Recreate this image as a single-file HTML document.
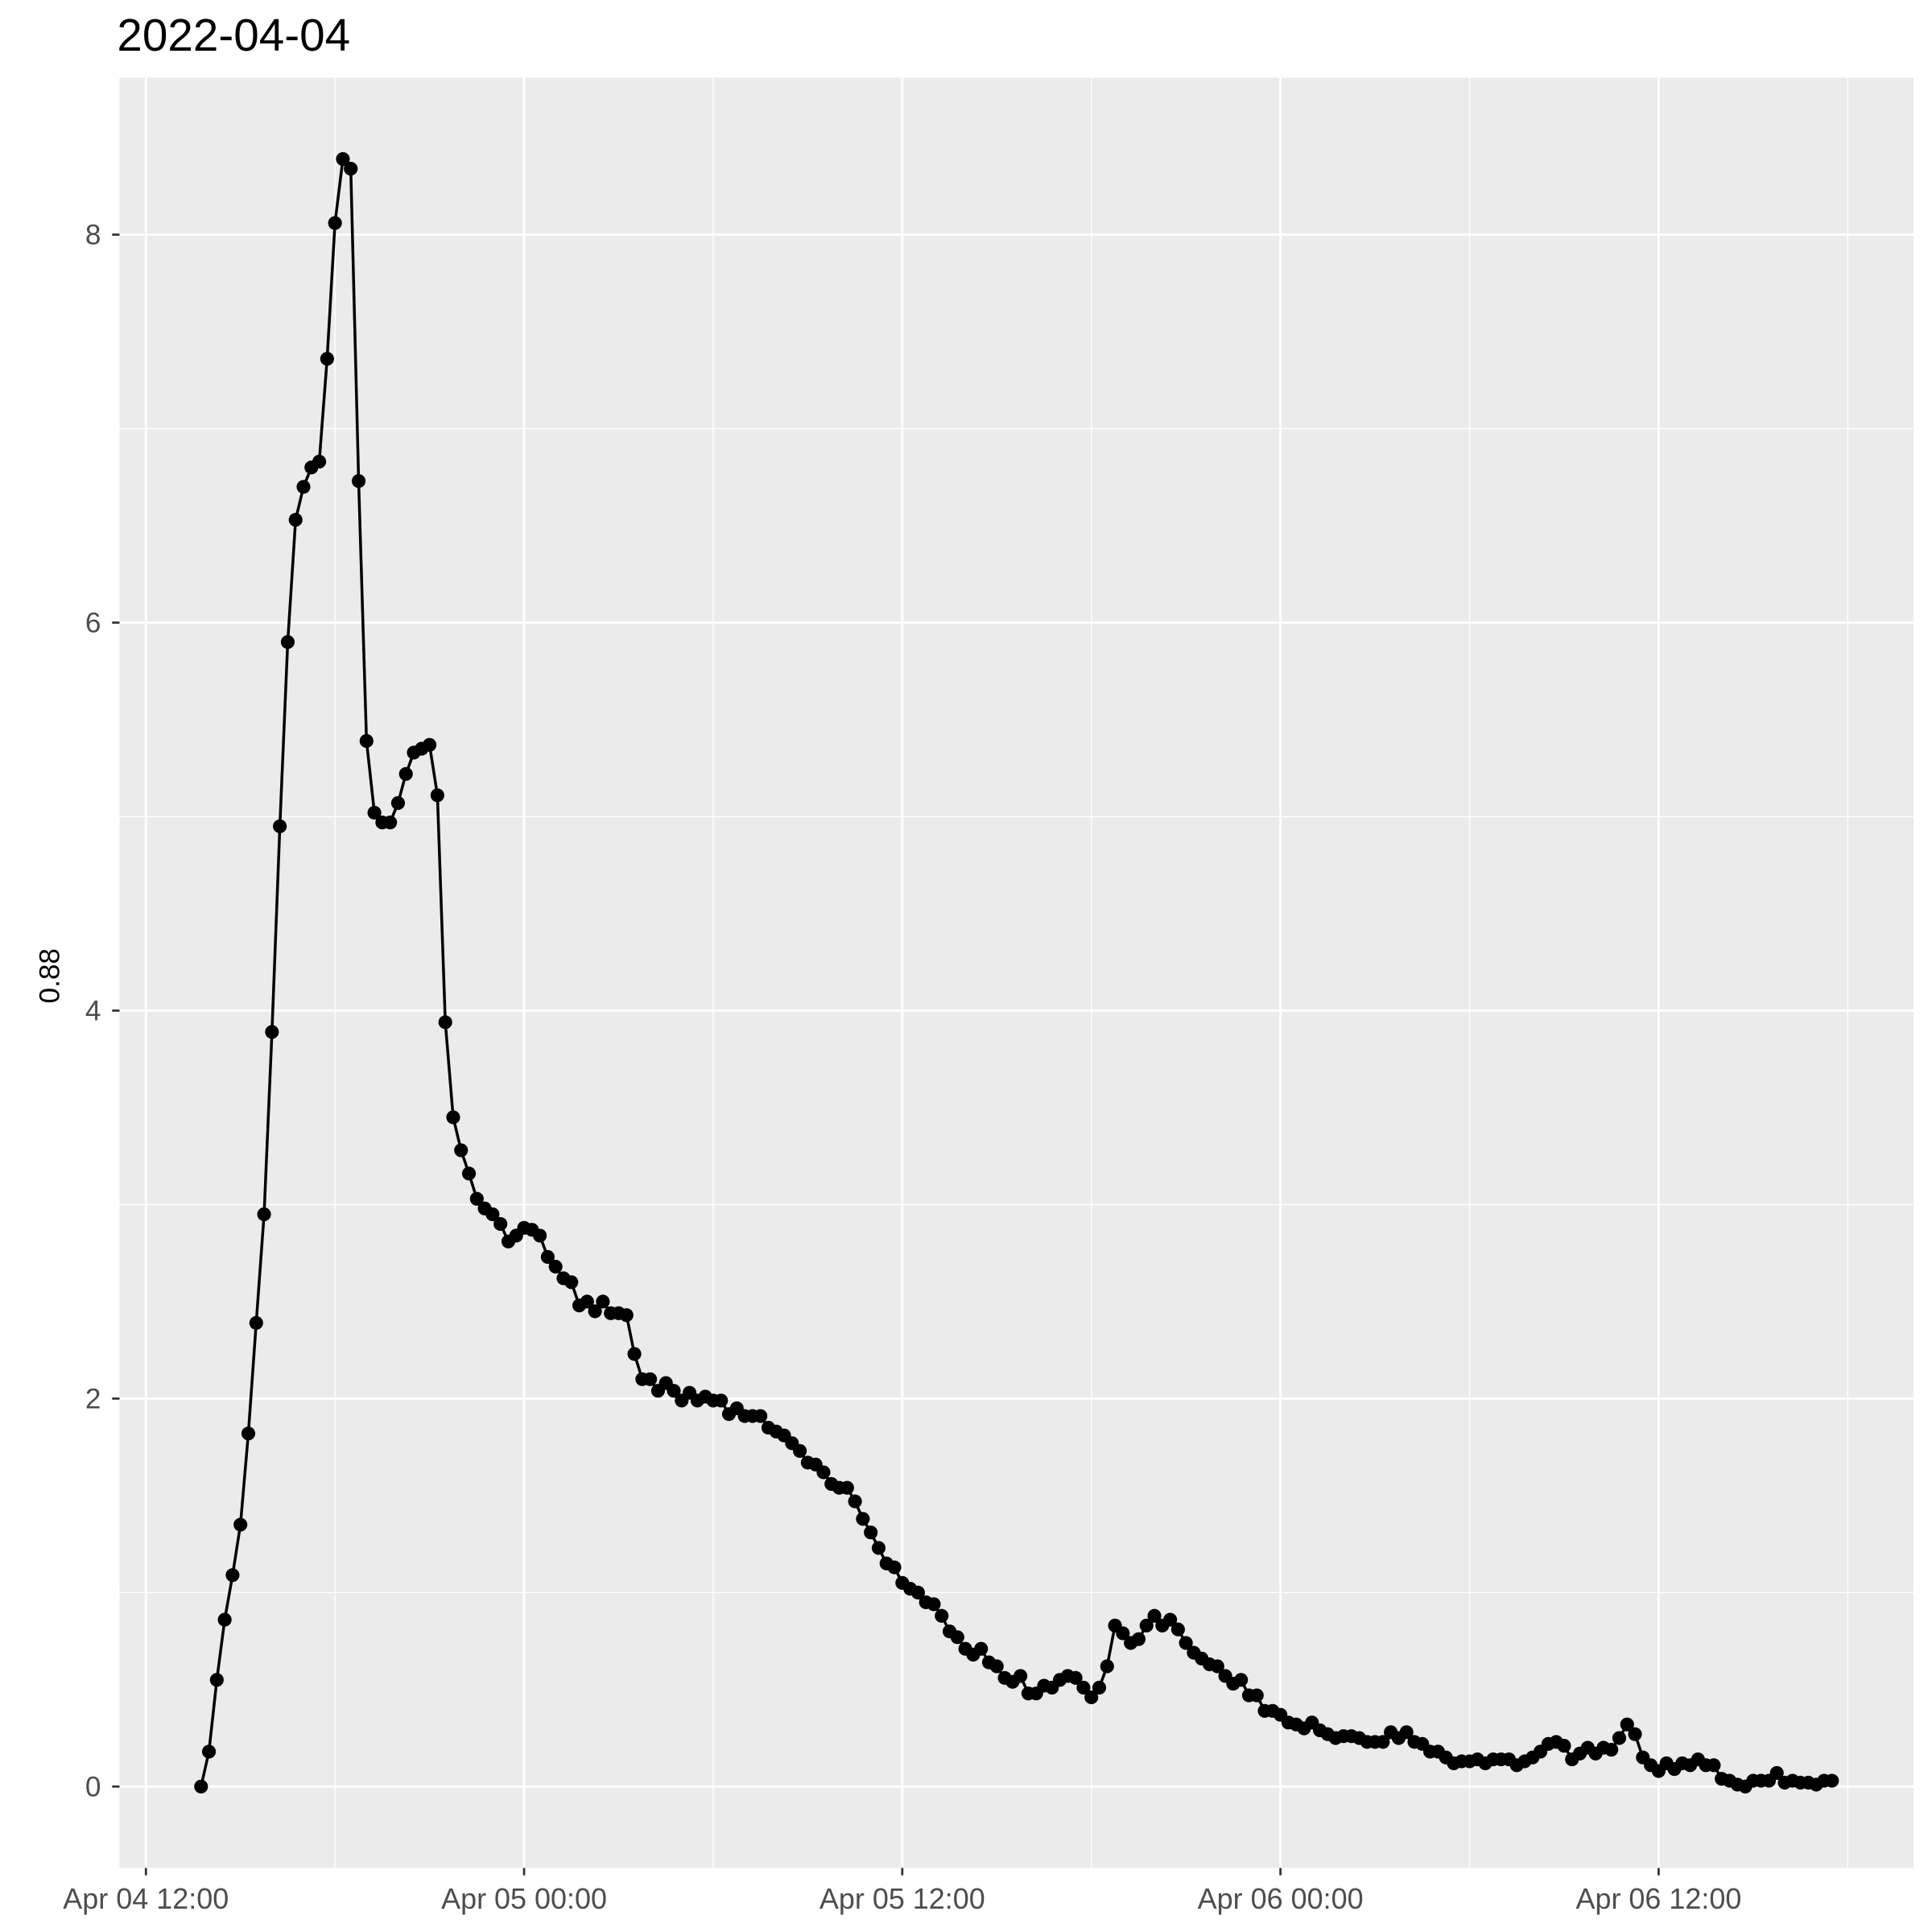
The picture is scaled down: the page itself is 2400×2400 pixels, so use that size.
<!DOCTYPE html>
<html><head><meta charset="utf-8"><style>
html,body{margin:0;padding:0;background:#fff;}
svg{display:block;}
text{font-family:"Liberation Sans","DejaVu Sans",sans-serif;}
</style></head><body>
<svg id="chart" width="2400" height="2400" viewBox="0 0 1568 1568" xmlns="http://www.w3.org/2000/svg">
<text x="95" y="41" font-size="37" fill="#000">2022-04-04</text>
<rect x="97" y="63" width="1456" height="1453" fill="#ebebeb"/>
<g id="grid"></g>
<g id="axes"></g>
<g id="series"></g>
<text transform="translate(48,792) rotate(-90)" text-anchor="middle" font-size="23" fill="#000">0.88</text>
</svg>
<script>
const startHour = 1.75;      // hours after Apr 04 12:00
const stepHours = 0.25;
const values = [0,0.18,0.55,0.86,1.09,1.35,1.82,2.39,2.95,3.89,4.95,5.90,6.53,6.70,6.80,6.83,7.36,8.06,8.39,8.34,6.73,5.39,5.02,4.97,4.97,5.07,5.22,5.33,5.35,5.37,5.11,3.94,3.45,3.28,3.16,3.03,2.98,2.95,2.90,2.81,2.84,2.88,2.87,2.84,2.73,2.68,2.62,2.60,2.48,2.50,2.45,2.50,2.44,2.44,2.43,2.23,2.10,2.10,2.04,2.08,2.04,1.99,2.03,1.99,2.01,1.99,1.99,1.92,1.95,1.91,1.91,1.91,1.85,1.83,1.81,1.77,1.73,1.67,1.66,1.62,1.56,1.54,1.54,1.47,1.38,1.31,1.23,1.15,1.13,1.05,1.02,1.00,0.95,0.94,0.88,0.80,0.77,0.71,0.68,0.71,0.64,0.62,0.56,0.54,0.57,0.48,0.48,0.52,0.51,0.55,0.57,0.56,0.51,0.46,0.51,0.62,0.83,0.79,0.74,0.76,0.83,0.88,0.83,0.86,0.81,0.74,0.69,0.66,0.63,0.62,0.57,0.53,0.55,0.47,0.47,0.39,0.39,0.37,0.33,0.32,0.30,0.33,0.29,0.27,0.25,0.26,0.26,0.25,0.23,0.23,0.23,0.28,0.25,0.28,0.23,0.22,0.18,0.18,0.15,0.12,0.13,0.13,0.14,0.12,0.14,0.14,0.14,0.11,0.13,0.15,0.18,0.22,0.23,0.21,0.14,0.17,0.20,0.17,0.20,0.19,0.25,0.32,0.27,0.15,0.11,0.08,0.12,0.09,0.12,0.11,0.14,0.11,0.11,0.04,0.03,0.01,0.00,0.03,0.03,0.03,0.07,0.02,0.03,0.02,0.02,0.01,0.03,0.03];
const xTickHours = [0,12,24,36,48];
const xTickLabels = ["Apr 04 12:00","Apr 05 00:00","Apr 05 12:00","Apr 06 00:00","Apr 06 12:00"];
const xMinorHours = [6,18,30,42,54];
const yTicks = [0,2,4,6,8];
const yMinor = [1,3,5,7];

const NS="http://www.w3.org/2000/svg";
const L=97,R=1553,T=63,B=1516;
const hours=values.map((v,i)=>startHour+i*stepHours);
const hMin=Math.min(...hours),hMax=Math.max(...hours),hPad=(hMax-hMin)*0.05;
const vMin=Math.min(...values),vMax=Math.max(...values),vPad=(vMax-vMin)*0.05;
const x=h=>L+(h-(hMin-hPad))/((hMax+hPad)-(hMin-hPad))*(R-L);
const y=v=>B-(v-(vMin-vPad))/((vMax+vPad)-(vMin-vPad))*(B-T);
function mk(tag,attrs,parent){const e=document.createElementNS(NS,tag);for(const k in attrs)e.setAttribute(k,attrs[k]);parent.appendChild(e);return e;}
const grid=document.getElementById('grid'),axes=document.getElementById('axes'),series=document.getElementById('series');
yMinor.forEach(v=>{const e=mk('line',{x1:L,x2:R,y1:y(v),y2:y(v),stroke:'#fff','stroke-width':0.9},grid);

});
xMinorHours.forEach(h=>{const e=mk('line',{x1:x(h),x2:x(h),y1:T,y2:B,stroke:'#fff','stroke-width':0.9},grid);

});
yTicks.forEach(v=>{const e=mk('line',{x1:L,x2:R,y1:y(v),y2:y(v),stroke:'#fff','stroke-width':1.8},grid);


const t=mk('line',{x1:L-6,x2:L,y1:y(v),y2:y(v),stroke:'#333','stroke-width':1.8},axes);


const lb=mk('text',{x:L-15,y:y(v)+8,'text-anchor':'end','font-size':23,fill:'#4d4d4d'},axes);lb.textContent=v;

});
xTickHours.forEach((h,i)=>{const e=mk('line',{x1:x(h),x2:x(h),y1:T,y2:B,stroke:'#fff','stroke-width':1.8},grid);


const t=mk('line',{x1:x(h),x2:x(h),y1:B,y2:B+6,stroke:'#333','stroke-width':1.8},axes);


const lb=mk('text',{x:x(h),y:B+33,'text-anchor':'middle','font-size':23.5,fill:'#4d4d4d'},axes);lb.textContent=xTickLabels[i];

});
const d=values.map((v,i)=>(i?'L':'M')+x(hours[i]).toFixed(2)+' '+y(v).toFixed(2)).join(' ');
const path=mk('path',{d:d,fill:'none',stroke:'#000','stroke-width':2.3},series);


values.forEach((v,i)=>{const c=mk('circle',{cx:x(hours[i]),cy:y(v),r:5.6,fill:'#000'},series);

});
</script>
</body></html>
